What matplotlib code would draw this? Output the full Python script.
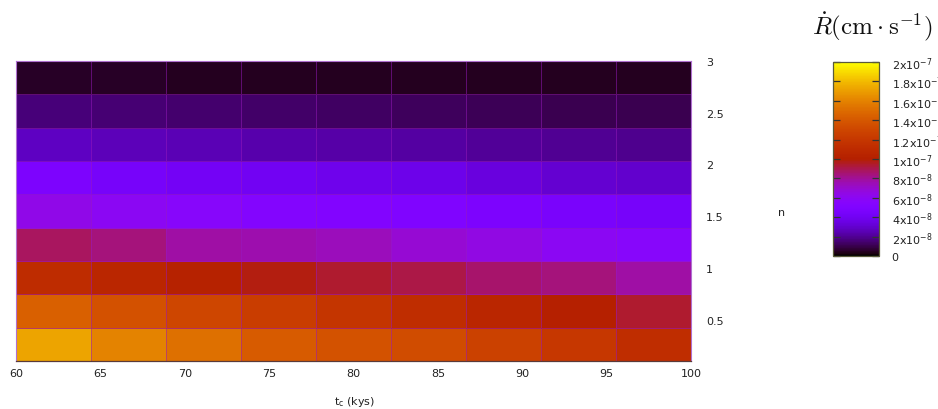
import numpy as np
import matplotlib
matplotlib.use("Agg")
import matplotlib.pyplot as plt
from matplotlib.colors import Normalize

# Grid of cooling times (kys) and indices n (cell edges)
tc_edges = np.linspace(60, 100, 10)
n_edges = np.linspace(0.1, 3.0, 10)

# Expansion rate R-dot, units of 1e-8 cm/s, rows from n=0.1 (bottom) to n=3 (top)
rate_row1 = [17.2, 16.0, 15.2, 14.2, 13.7, 13.3, 12.7, 12.0, 11.2]
rate_row2 = [14.4, 13.6, 13.0, 12.4, 11.8, 11.2, 10.6, 10.0, 9.4]
rate_row3 = [11.1, 10.6, 10.2, 9.8, 9.4, 9.1, 8.6, 8.4, 7.8]
rate_row4 = [8.8, 8.4, 7.8, 7.6, 7.4, 6.9, 6.5, 6.0, 5.6]
rate_row5 = [6.4, 6.0, 5.6, 5.3, 5.2, 5.0, 4.8, 4.6, 4.4]
rate_row6 = [4.8, 4.4, 4.2, 4.0, 3.8, 3.7, 3.4, 3.1, 3.0]
rate_row7 = [2.8, 2.6, 2.5, 2.4, 2.3, 2.2, 2.1, 2.0, 1.9]
rate_row8 = [1.6, 1.5, 1.42, 1.34, 1.26, 1.18, 1.12, 1.08, 1.04]
rate_row9 = [0.50, 0.48, 0.46, 0.45, 0.44, 0.43, 0.42, 0.41, 0.40]

xticks = [60, 65, 70, 75, 80, 85, 90, 95, 100]
yticks = [0.5, 1, 1.5, 2, 2.5, 3]
yticklabels = ["0.5", "1", "1.5", "2", "2.5", "3"]
cbar_ticks = np.arange(0, 11) * 2e-8
cbar_labels = ["0"] + [r"%dx10$^{-8}$" % v for v in (2, 4, 6, 8)] + \
    [r"1x10$^{-7}$"] + [r"%sx10$^{-7}$" % v for v in ("1.2", "1.4", "1.6", "1.8")] + \
    [r"2x10$^{-7}$"]

rates = np.array([rate_row1, rate_row2, rate_row3, rate_row4, rate_row5,
                  rate_row6, rate_row7, rate_row8, rate_row9]) * 1e-8

plt.rcParams["font.family"] = ["DejaVu Sans"]
plt.rcParams["mathtext.fontset"] = "dejavusans"

W, H = 938, 410
FS = 8
fig = plt.figure(figsize=(W / 100, H / 100), dpi=100)

ax = fig.add_axes([16 / W, 1 - 362 / H, (691 - 16) / W, (362 - 62) / H])
norm = Normalize(vmin=0, vmax=2e-7)
mesh = ax.pcolormesh(tc_edges, n_edges, rates, cmap="gnuplot", norm=norm,
                     edgecolors=(0.6, 0.1, 0.75, 0.5), linewidth=0.7)
ax.set_xlim(60, 100)
ax.set_ylim(0.1, 3.0)
ax.set_xticks(xticks)
ax.set_xticklabels([str(t) for t in xticks], fontsize=FS, color="#222222")
ax.yaxis.tick_right()
ax.set_yticks(yticks)
ax.set_yticklabels(yticklabels, fontsize=FS, color="#222222")
ax.tick_params(axis="x", length=0, pad=5)
ax.tick_params(axis="y", length=0, pad=11)
for side in ("left", "right", "top"):
    ax.spines[side].set_color("#b070d0")
    ax.spines[side].set_linewidth(0.8)
ax.spines["bottom"].set_color("#5a3a3a")
ax.spines["bottom"].set_linewidth(0.9)

fig.text(355 / W, 1 - 402 / H, r"t$_\mathrm{c}$ (kys)", fontsize=FS,
         color="#222222", ha="center", va="center")
fig.text(782 / W, 1 - 213 / H, "n", fontsize=FS, color="#222222",
         ha="center", va="center")

cax = fig.add_axes([833 / W, 1 - 257 / H, 46 / W, (257 - 63) / H])
cb = fig.colorbar(mesh, cax=cax, ticks=cbar_ticks)
cb.outline.set_edgecolor("#5a5a3a")
cb.outline.set_linewidth(0.9)
cax.set_yticklabels(cbar_labels, fontsize=FS, color="#222222")
cax.tick_params(axis="y", direction="in", length=5, width=0.9, color="#333333",
                left=True, right=True, pad=9)

fig.text(812 / W, 1 - 35 / H, r"$\dot{R}(\mathrm{cm}\cdot\mathrm{s}^{-1})$",
         fontsize=18, math_fontfamily="cm", color="#111111",
         ha="left", va="baseline")

fig.savefig("out.png", dpi=100)
